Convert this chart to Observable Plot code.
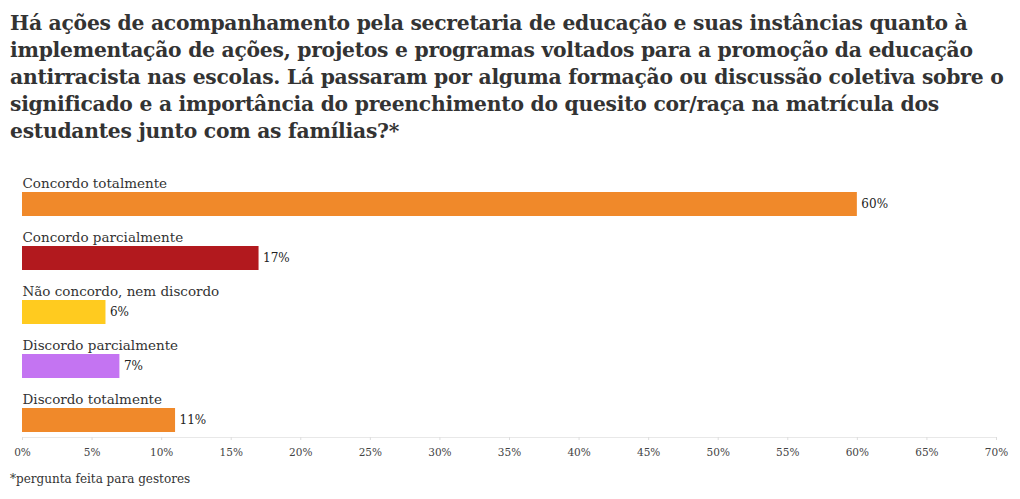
<!DOCTYPE html>
<html>
<head>
<meta charset="utf-8">
<script src="https://cdn.jsdelivr.net/npm/d3@7"></script>
<script src="https://cdn.jsdelivr.net/npm/@observablehq/plot@0.6"></script>
<style>
  body { margin: 0; background: #fff; font-family: "DejaVu Serif", serif; color: #333; }
  #title { position: absolute; left: 10px; top: 10px; white-space: nowrap; font-weight: bold; font-size: 20.3px; line-height: 27px; color: #333; letter-spacing: -0.25px; }
  #chart { position: absolute; left: 0; top: 165px; }
  #note { position: absolute; left: 10px; top: 472px; font-size: 12px; color: #333; }
</style>
</head>
<body>
<div id="title">Há ações de acompanhamento pela secretaria de educação e suas instâncias quanto à<br>implementação de ações, projetos e programas voltados para a promoção da educação<br>antirracista nas escolas. Lá passaram por alguma formação ou discussão coletiva sobre o<br>significado e a importância do preenchimento do quesito cor/raça na matrícula dos<br>estudantes junto com as famílias?*</div>
<div id="chart"></div>
<div id="note">*pergunta feita para gestores</div>
<script>
const categories = ["Concordo totalmente", "Concordo parcialmente", "Não concordo, nem discordo", "Discordo parcialmente", "Discordo totalmente"];
const values = [60, 17, 6, 7, 11];
const colors = ["#f0892a", "#b2191e", "#ffcb1f", "#c474f2", "#f0892a"];
const xTicks = [0, 5, 10, 15, 20, 25, 30, 35, 40, 45, 50, 55, 60, 65, 70];

const data = categories.map((c, i) => ({cat: c, value: values[i], color: colors[i]}));

const chart = Plot.plot({
  width: 1020,
  height: 300,
  marginLeft: 22,
  marginRight: 24,
  marginTop: 27,
  marginBottom: 28,
  style: {fontFamily: "DejaVu Serif, serif", color: "#333", background: "transparent"},
  x: {domain: [0, 70], ticks: xTicks, tickFormat: d => d + "%", label: null},
  y: {domain: categories, paddingInner: 0.556, paddingOuter: 0, insetBottom: 5, axis: null, label: null},
  marks: [
    Plot.frame({anchor: "bottom", stroke: "#e8e8e8"}),
    Plot.axisX({ticks: xTicks, tickFormat: d => d + "%", tickSize: 3, stroke: "#ddd", tickPadding: 8, fontSize: 10.5, fill: "#444", label: null}),
    Plot.barX(data, {x: "value", y: "cat", fill: "color"}),
    Plot.text(data, {x: 0, y: "cat", text: "cat", textAnchor: "start", dy: -21, fontSize: 13.5, fill: "#333"}),
    Plot.text(data, {x: "value", y: "cat", text: d => d.value + "%", textAnchor: "start", dx: 4, fontSize: 12, fill: "#222"})
  ]
});
document.getElementById("chart").appendChild(chart);
</script>
</body>
</html>
